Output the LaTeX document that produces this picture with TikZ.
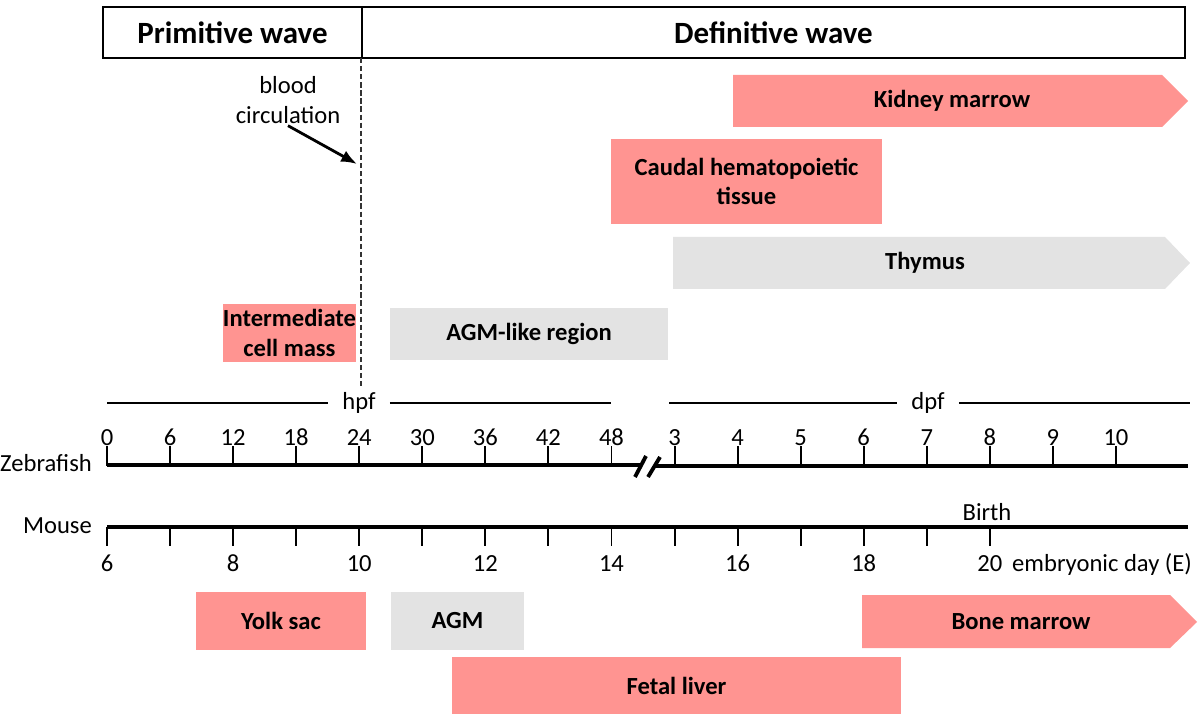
\documentclass[tikz,border=0pt]{standalone}
\usepackage{fontspec}
\setmainfont{Carlito}
\usepackage{tikz}
\usetikzlibrary{arrows.meta,fit}
\definecolor{tissuepink}{HTML}{FF9491}
\definecolor{tissuegray}{HTML}{E3E3E3}

\begin{document}
\begin{tikzpicture}[x=0.02cm,y=-0.02cm,>={Latex[length=9pt,width=7pt]},font=\fontsize{14}{17}\selectfont]
\tikzstyle{pinkbox}=[fill=tissuepink,inner sep=0pt]
\tikzstyle{graybox}=[fill=tissuegray,inner sep=0pt]
\tikzstyle{organ}=[align=center,inner sep=0pt,font=\fontsize{14}{17}\selectfont\bfseries]
\tikzstyle{wavebox}=[draw,line width=0.8pt,inner sep=0pt]
\tikzstyle{wave}=[font=\fontsize{17.6}{20}\selectfont\bfseries]
\tikzstyle{axis}=[line width=2.8pt]
\tikzstyle{tickmark}=[line width=1.1pt]
\useasboundingbox (0,0) rectangle (1200,719);
\node[wavebox,fit={(103,7) (362,58)}] (prim) {};
\node[wavebox,fit={(362,7) (1185,58)}] (defin) {};
\node[wave] (primtext) at (prim.center) {Primitive wave};
\node[wave] (defintext) at (defin.center) {Definitive wave};
\coordinate (splittop) at (361,58);
\coordinate (splitbot) at (361,386);
\draw[line width=0.6pt,dash pattern=on 3pt off 1.6pt,black!80] (splittop) -- (splitbot);
\node[align=center,inner sep=1pt] (blood) at (288,100) {blood\\circulation};
\coordinate (onset) at (357,164);
\draw[->,line width=1.6pt] (blood.south) -- (onset);
\fill[tissuepink] (733,75) -- (1162,75) -- (1188,101) -- (1162,127) -- (733,127) -- cycle;
\node[organ] (kidney) at (952,101) {Kidney marrow};
\node[pinkbox,fit={(611,139) (882,224)}] (caudal) {};
\node[organ] (caudaltext) at (caudal.center) {Caudal hematopoietic\\tissue};
\fill[tissuegray] (673,237) -- (1165,237) -- (1190,263) -- (1165,289) -- (673,289) -- cycle;
\node[organ] (thymus) at (925,263) {Thymus};
\node[pinkbox,fit={(223,304) (356,362)}] (icm) {};
\node[organ] (icmtext) at (icm.center) {Intermediate\\cell mass};
\node[graybox,fit={(390,308) (668,360)}] (agmlike) {};
\node[organ] (agmliketext) at (agmlike.center) {AGM-like region};
\coordinate (hpfL) at (107,403);
\coordinate (hpfR) at (611,403);
\coordinate (dpfL) at (669,403);
\coordinate (dpfR) at (1190,403);
\node[inner xsep=8pt] (hpf) at (359,403) {hpf};
\node[inner xsep=8pt] (dpf) at (928,403) {dpf};
\draw[line width=0.6pt] (hpfL) -- (hpf) -- (hpfR);
\draw[line width=0.6pt] (dpfL) -- (dpf) -- (dpfR);
\node[anchor=east] (zfname) at (98,463) {Zebrafish};
\draw[axis] (107,465) -- (641,465);
\draw[axis] (654,466) -- (1188,466);
\draw[line width=2.2pt] (635,477) -- (646,456);
\draw[line width=2.2pt] (648,477) -- (660,457);
\foreach \lab [count=\i from 0] in {0,6,12,18,24,30,36,42,48,3,4,5,6,7,8,9,10}{
    \draw[tickmark] (107+\i*63.06,446) -- (107+\i*63.06,466);
    \node[anchor=base] (zf\i) at (107+\i*63.06,445) {\lab};
}
\node[anchor=east] (msname) at (98,526) {Mouse};
\draw[axis] (107,527) -- (1188,527);
\foreach \i in {0,...,14}{
    \draw[tickmark] (107+\i*63.06,527) -- (107+\i*63.06,546);
}
\foreach \lab [count=\i from 0] in {6,8,10,12,14,16,18,20}{
    \node[anchor=base] (ms\i) at (107+\i*126.12,571) {\lab};
}
\node (birth) at (987,512) {Birth};
\node[anchor=base west] (eday) at (1006,571) {embryonic day (E)};
\node[pinkbox,fit={(196,592) (366,650)}] (yolk) {};
\node[organ] (yolktext) at (yolk.center) {Yolk sac};
\node[graybox,fit={(391,592) (524,650)}] (agm) {};
\node[organ] (agmtext) at (agm.center) {AGM};
\fill[tissuepink] (862,595) -- (1170,595) -- (1197,622) -- (1170,648) -- (862,648) -- cycle;
\node[organ] (bone) at (1021,622) {Bone marrow};
\node[pinkbox,fit={(452,657) (901,714)}] (liver) {};
\node[organ] (livertext) at (liver.center) {Fetal liver};
\end{tikzpicture}
\end{document}
